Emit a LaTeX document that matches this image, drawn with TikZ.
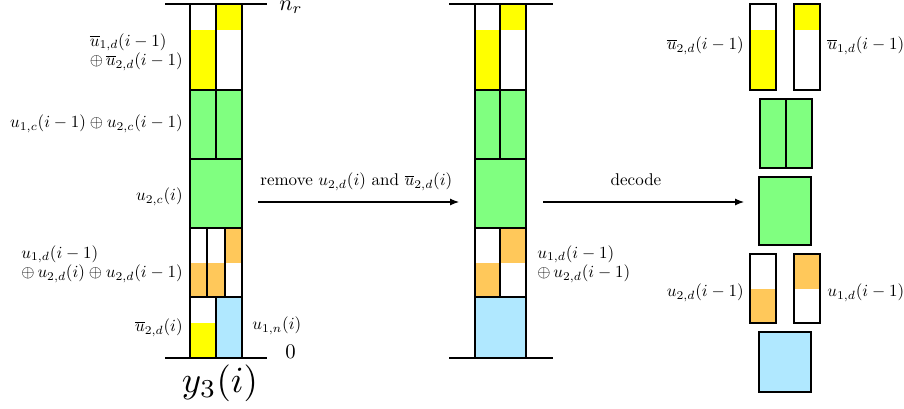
\documentclass[tikz,border=0pt]{standalone}
\usetikzlibrary{arrows.meta}
\definecolor{cyel}{RGB}{255,255,0}
\definecolor{cgrn}{RGB}{128,255,128}
\definecolor{corg}{RGB}{255,200,90}
\definecolor{cblu}{RGB}{176,232,255}
\tikzset{
  box/.style={draw=black, line width=1.1pt},
  axis/.style={draw=black, line width=1.6pt},
  lab/.style={scale=1.7, inner sep=0pt, font=\fontsize{10}{11.6}\selectfont},
  arr/.style={draw=black, line width=1.1pt, -{Latex[length=9pt,width=7pt]}},
}
\begin{document}
\begin{tikzpicture}[x=1pt,y=-1pt]
\useasboundingbox (0,0) rectangle (904,408);
% ---------------- left column ----------------
\fill[cyel] (190,30) rectangle (216,90);
\fill[cyel] (216,4) rectangle (242,30);
\draw[box] (190,4) rectangle (216,90);
\draw[box] (216,4) rectangle (242,90);
\draw[box,fill=cgrn] (190,90) rectangle (216,159);
\draw[box,fill=cgrn] (216,90) rectangle (242,159);
\draw[box,fill=cgrn] (190,159) rectangle (242,228);
\fill[corg] (190,263) rectangle (207,297);
\fill[corg] (207,263) rectangle (225,297);
\fill[corg] (225,228) rectangle (242,263);
\draw[box] (190,228) rectangle (207,297);
\draw[box] (207,228) rectangle (225,297);
\draw[box] (225,228) rectangle (242,297);
\fill[cyel] (190,323) rectangle (216,358);
\draw[box] (190,297) rectangle (216,358);
\draw[box,fill=cblu] (216,297) rectangle (242,358);
\draw[axis] (165,4) -- (267,4);
\draw[axis] (165,358) -- (267,358);
\node[lab, anchor=base west, scale=1.3] (nr) at (279,10.5) {$n_r$};
\node[lab, anchor=west, scale=1.22] (zero) at (285,352) {$0$};
\node[lab, scale=2.17] (y3) at (220,383) {$y_3(i)$};
\node[lab, anchor=east, align=left] (l1) at (183,52) {$\overline{u}_{1,d}(i-1)$\\$\oplus\,\overline{u}_{2,d}(i-1)$};
\node[lab, anchor=east] (l2) at (183,124) {$u_{1,c}(i-1)\oplus u_{2,c}(i-1)$};
\node[lab, anchor=east] (l3) at (183,197) {$u_{2,c}(i)$};
\node[lab, anchor=east, align=left] (l4) at (183,264) {$u_{1,d}(i-1)$\\$\oplus\,u_{2,d}(i)\oplus u_{2,d}(i-1)$};
\node[lab, anchor=east] (l5) at (183,328) {$\overline{u}_{2,d}(i)$};
\node[lab, anchor=west] (l6) at (252,326) {$u_{1,n}(i)$};
% ---------------- middle column ----------------
\fill[cyel] (475,30) rectangle (500,90);
\fill[cyel] (500,4) rectangle (526,30);
\draw[box] (475,4) rectangle (500,90);
\draw[box] (500,4) rectangle (526,90);
\draw[box,fill=cgrn] (475,90) rectangle (500,159);
\draw[box,fill=cgrn] (500,90) rectangle (526,159);
\draw[box,fill=cgrn] (475,159) rectangle (526,228);
\fill[corg] (475,263) rectangle (500,297);
\fill[corg] (500,228) rectangle (526,263);
\draw[box] (475,228) rectangle (500,297);
\draw[box] (500,228) rectangle (526,297);
\draw[box,fill=cblu] (475,297) rectangle (526,358);
\draw[axis] (449,4) -- (553,4);
\draw[axis] (449,358) -- (553,358);
\node[lab, anchor=west, align=left] (m1) at (537,264) {$u_{1,d}(i-1)$\\$\oplus\,u_{2,d}(i-1)$};
% ---------------- right column ----------------
\fill[cyel] (750,30) rectangle (776,90);
\draw[box] (750,4) rectangle (776,90);
\fill[cyel] (794,4) rectangle (820,30);
\draw[box] (794,4) rectangle (820,90);
\draw[box,fill=cgrn] (760,99) rectangle (786,168);
\draw[box,fill=cgrn] (786,99) rectangle (812,168);
\draw[box,fill=cgrn] (759,177) rectangle (811,245);
\fill[corg] (750,289) rectangle (776,323);
\draw[box] (750,254) rectangle (776,323);
\fill[corg] (794,254) rectangle (820,289);
\draw[box] (794,254) rectangle (820,323);
\draw[box,fill=cblu] (759,332) rectangle (811,392);
\node[lab, anchor=east] (r1) at (744,46) {$\overline{u}_{2,d}(i-1)$};
\node[lab, anchor=west] (r2) at (827,46) {$\overline{u}_{1,d}(i-1)$};
\node[lab, anchor=east] (r3) at (744,293) {$u_{2,d}(i-1)$};
\node[lab, anchor=west] (r4) at (827,293) {$u_{1,d}(i-1)$};
% ---------------- arrows ----------------
\coordinate (a1s) at (258,202);
\coordinate (a1e) at (459,202);
\coordinate (a2s) at (543,202);
\coordinate (a2e) at (744,202);
\draw[arr] (a1s) -- (a1e);
\draw[arr] (a2s) -- (a2e);
\node[lab, anchor=west] (t1) at (260,182) {remove $u_{2,d}(i)$ and $\overline{u}_{2,d}(i)$};
\node[lab] (t2) at (636,180) {decode};
\end{tikzpicture}
\end{document}
